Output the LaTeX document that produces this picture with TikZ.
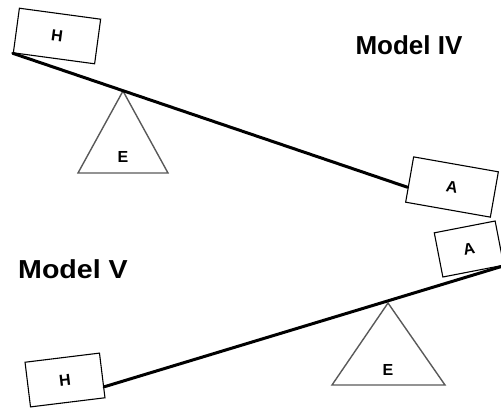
\documentclass[tikz,border=0pt]{standalone}
\usepackage{fontspec}
\setmainfont{Liberation Sans}
\usetikzlibrary{calc}
\begin{document}
\begin{tikzpicture}[x=1pt,y=-1pt,
  box/.style={draw=black,line width=1.1pt,fill=white,inner sep=0pt,
    font=\bfseries\fontsize{16}{16}\selectfont},
  beam/.style={line width=3pt,black,line cap=round},
  tri/.style={draw=black!65,line width=1.4pt,line join=miter},
  tlabel/.style={font=\bfseries\fontsize{16}{16}\selectfont,inner sep=0pt},
  title/.style={font=\bfseries\fontsize{26}{26}\selectfont,inner sep=0pt,anchor=base}]
\useasboundingbox (0,0) rectangle (501,408);
% Model IV
\coordinate (T1) at (123,91);
\draw[tri] (T1) -- ++(-45,82) -- ++(90,0) -- cycle;
\node[tlabel] (E1) at (123,157) {E};
\node[box,minimum width=82pt,minimum height=45pt,rotate=-7.7] (H1) at (57,36) {H};
\node[box,minimum width=86pt,minimum height=46pt,rotate=-10] (A1) at (452,187) {A};
\draw[beam] (H1.south west) -- ($(A1.north west)!0.67!(A1.south west)$);
\node[title] (M4) at (409,54) {Model IV};
% Model V
\coordinate (T2) at (388,303);
\draw[tri] (T2) -- ++(-56,82) -- ++(113,0) -- cycle;
\node[tlabel] (E2) at (388,370) {E};
\node[box,minimum width=75pt,minimum height=45pt,rotate=7] (H2) at (65,380) {H};
\node[box,minimum width=62pt,minimum height=45pt,rotate=11] (A2) at (469,249) {A};
\draw[beam] ($(H2.north east)!0.75!(H2.south east)$) -- (A2.south east);
\node[title,xscale=1.1] (M5) at (73,278) {Model V};
\end{tikzpicture}
\end{document}
